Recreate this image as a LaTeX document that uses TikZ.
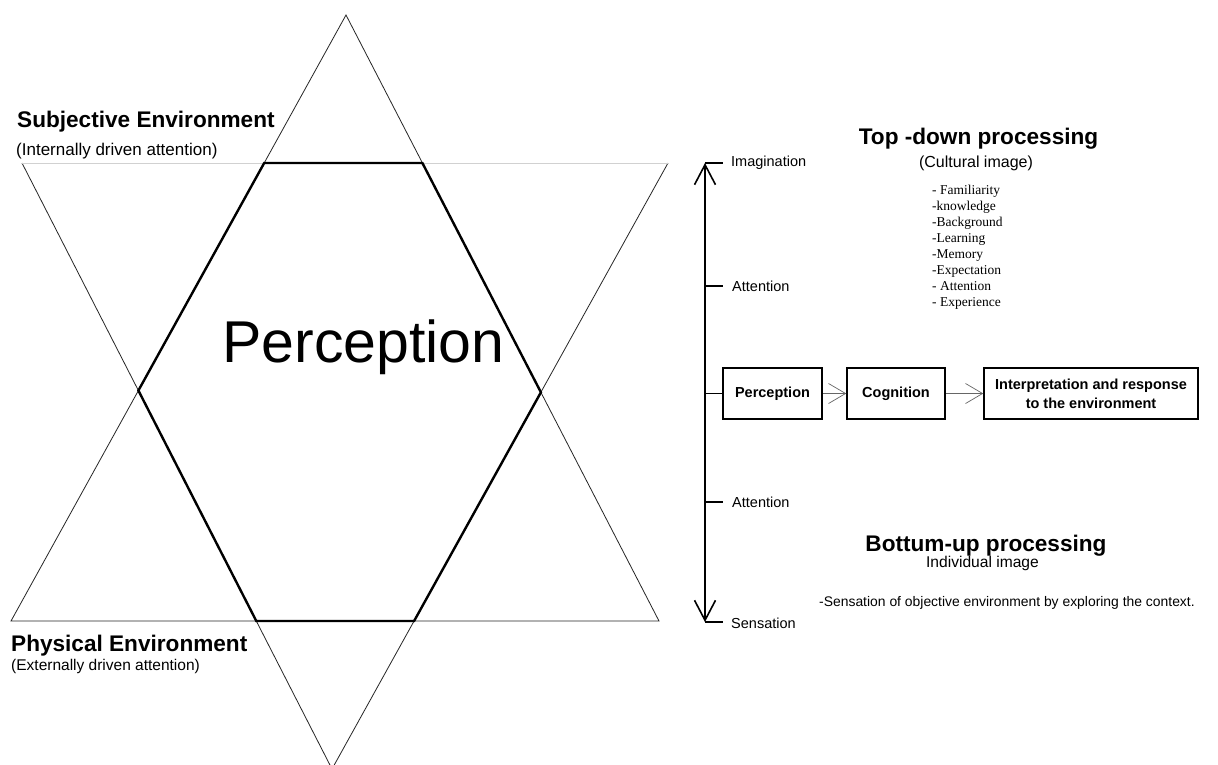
\documentclass[tikz,border=0pt]{standalone}
\usepackage{fontspec}
\setmainfont{Liberation Sans}
\newfontfamily\listfont{Liberation Serif}
\usetikzlibrary{arrows.meta}
\begin{document}
\begin{tikzpicture}[x=1pt,y=-1pt,
  thinline/.style={line width=0.8pt, black!85},
  faintline/.style={line width=0.8pt, black!18},
  hexline/.style={line width=2.4pt, line join=miter},
  axisline/.style={line width=1.6pt,
    {Straight Barb[length=20pt,width=21pt,line width=1.6pt]}-{Straight Barb[length=20pt,width=21pt,line width=1.6pt]}},
  tick/.style={line width=1.6pt},
  lbl/.style={inner sep=0pt, anchor=west, font=\fontsize{14.5}{17}\selectfont},
  box/.style={draw, line width=1.5pt, inner sep=0pt, minimum height=51pt,
    align=center, font=\fontsize{14.5}{19}\selectfont\bfseries},
  flow/.style={-{Straight Barb[length=17pt,width=20pt]}, line width=0.7pt, black!60},
  head/.style={inner sep=0pt, font=\fontsize{22.6}{27}\selectfont\bfseries},
  sub/.style={inner sep=0pt},
]
\clip (0,0) rectangle (1218,764);
\fill[white] (0,0) rectangle (1218,764);

% ---- star: upward and downward triangles ----
\coordinate (U)  at (346,15);
\coordinate (UL) at (11,621);
\coordinate (UR) at (659,621);
\coordinate (DL) at (22,163);
\coordinate (DR) at (668,163);
\coordinate (D)  at (332,769);
\draw[thinline] (U) -- (UL) -- (UR) -- cycle;
\draw[thinline] (DL) -- (D) -- (DR);
\draw[faintline] (DL) -- (DR);

% ---- central hexagon ----
\coordinate (H1) at (264.2,163);
\coordinate (H2) at (422.4,163);
\coordinate (H3) at (540.9,392.3);
\coordinate (H4) at (414.1,621);
\coordinate (H5) at (256.3,621);
\coordinate (H6) at (138.4,390.5);
\draw[hexline] (H1) -- (H2) -- (H3) -- (H4) -- (H5) -- (H6) -- cycle;

\node[inner sep=0pt, anchor=base west, font=\fontsize{59}{65}\selectfont] (perbig) at (222,362) {Perception};

% ---- environment labels ----
\node[head, anchor=base west] (subj) at (17,127) {Subjective Environment};
\node[sub, anchor=base west, font=\fontsize{17}{20}\selectfont] (subjsub) at (16,155) {(Internally driven attention)};
\node[head, anchor=base west] (phys) at (11,651) {Physical Environment};
\node[sub, anchor=base west, font=\fontsize{15.5}{18}\selectfont] (physsub) at (11,670) {(Externally driven attention)};

% ---- vertical axis ----
\coordinate (axtop) at (705,163);
\coordinate (axbot) at (705,622);
\draw[axisline] (axbot) -- (axtop);

\coordinate (t1) at (705,163);   \coordinate (t1e) at (723,163);
\coordinate (t2) at (705,286);   \coordinate (t2e) at (723,286);
\coordinate (t4) at (705,502);   \coordinate (t4e) at (723,502);
\coordinate (t5) at (705,622);   \coordinate (t5e) at (723,622);
\coordinate (t3) at (705,393.5);
\draw[tick] (t1) -- (t1e);
\draw[tick] (t2) -- (t2e);
\draw[tick] (t4) -- (t4e);
\draw[tick] (t5) -- (t5e);

\node[lbl] (imag) at (731,163) {Imagination};
\node[lbl] (att1) at (732,286) {Attention};
\node[lbl] (att2) at (732,502) {Attention};
\node[lbl] (sens) at (731,623) {Sensation};

% ---- processing chain ----
\node[box, minimum width=99pt]  (perc)   at (772.5,393.5) {Perception};
\node[box, minimum width=98pt]  (cog)    at (896,393.5)   {Cognition};
\node[box, minimum width=214pt] (interp) at (1091,393.5)  {Interpretation and response\\to the environment};
\draw[tick] (t3) -- (perc.west);
\draw[flow] (perc.east) -- (cog.west);
\draw[flow] (cog.east) -- (interp.west);

% ---- top-down block ----
\node[head, anchor=base] (topdown) at (978.5,144) {Top -down processing};
\node[sub, anchor=base, font=\fontsize{16}{19}\selectfont] (cult) at (976,167) {(Cultural image)};
\node[inner sep=0pt, anchor=north west, align=left,
      font=\listfont\fontsize{13.5}{16}\selectfont] (list) at (932,184.8)
  {- Familiarity\\-knowledge\\-Background\\-Learning\\-Memory\\-Expectation\\- Attention\\- Experience};

% ---- bottom-up block ----
\node[head, anchor=base] (botup) at (986,551) {Bottum-up processing};
\node[sub, anchor=base, font=\fontsize{15.6}{19}\selectfont] (indiv) at (982.5,567) {Individual image};
\node[sub, anchor=base west, font=\fontsize{13.9}{17}\selectfont] (sensdesc) at (819,606)
  {-Sensation of objective environment by exploring the context.};
\end{tikzpicture}
\end{document}
